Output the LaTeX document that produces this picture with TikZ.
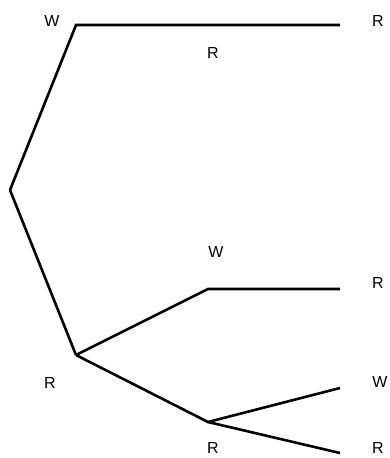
\documentclass[tikz,border=0pt]{standalone}
\usepackage{fontspec}
\setmainfont{Liberation Sans}
\begin{document}
\begin{tikzpicture}[
  x=1pt,y=-1pt,
  branch/.style={draw=black,line width=2.6pt},
  label/.style={font=\fontsize{16}{18}\selectfont,text=black,inner sep=0pt},
]
\useasboundingbox (0,0) rectangle (390,458);
% points of the tree
\coordinate (root) at (10,190);
\coordinate (w1) at (76,25);
\coordinate (r1) at (208,25);
\coordinate (r1end) at (340,25);
\coordinate (r2) at (76,355);
\coordinate (w2) at (208,289);
\coordinate (w2end) at (340,289);
\coordinate (r3) at (208,422);
\coordinate (w3end) at (340,388);
\coordinate (r3end) at (340,453);
% branches
\draw[branch] (root) -- (w1) -- (r1) -- (r1end);
\draw[branch] (root) -- (r2);
\draw[branch] (r2) -- (w2) -- (w2end);
\draw[branch] (r2) -- (r3) -- (w3end);
\draw[branch] (r3) -- (r3end);
% letters
\node[label] (lw1) at (52,21) {W};
\node[label] (lr1) at (213,53) {R};
\node[label] (lr1end) at (378,21) {R};
\node[label] (lr2) at (50,383) {R};
\node[label] (lw2) at (216,252) {W};
\node[label] (lw2end) at (378,283) {R};
\node[label] (lr3) at (213,448) {R};
\node[label] (lw3end) at (380,382) {W};
\node[label] (lr3end) at (378,448) {R};
\end{tikzpicture}
\end{document}
